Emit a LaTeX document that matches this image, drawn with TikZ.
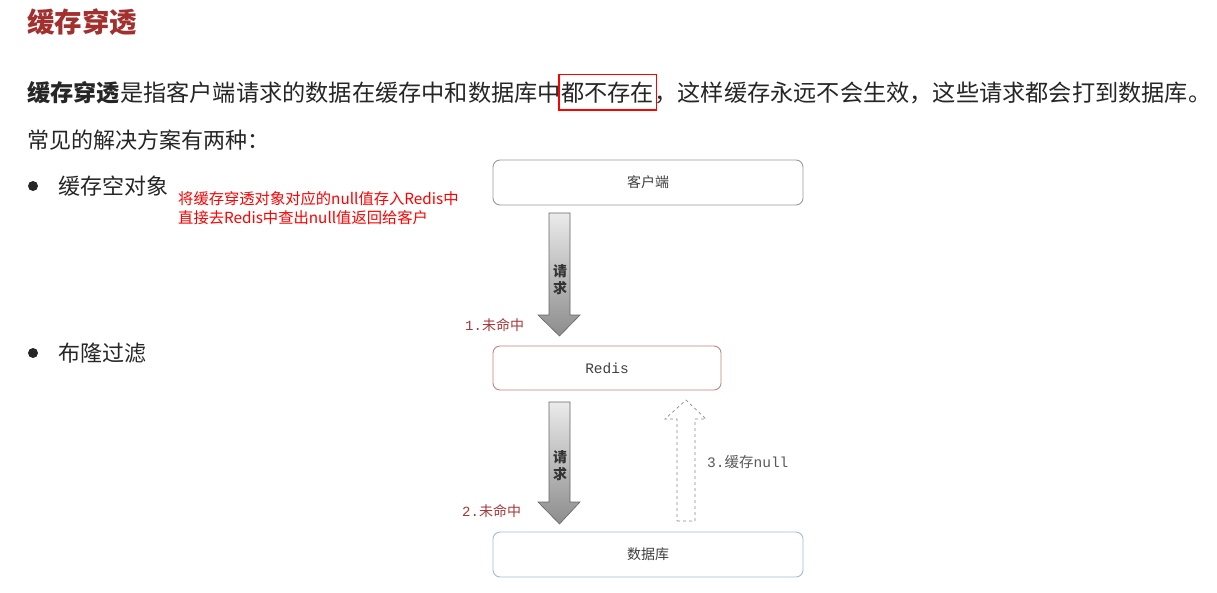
\documentclass[tikz,border=0pt]{standalone}
\usepackage{fontspec}
\setmainfont{Noto Sans CJK SC}
\newfontfamily\cjk{Noto Sans CJK SC}
\newfontfamily\mono{Liberation Mono}
\usetikzlibrary{fit}
\definecolor{titlered}{HTML}{A1302F}
\definecolor{lblred}{HTML}{A8373A}
\definecolor{boxgray}{HTML}{9A9A9A}
\definecolor{boxred}{HTML}{C08585}
\definecolor{boxblue}{HTML}{A3BCD6}
\tikzset{
  txt/.style={inner sep=0pt, anchor=west, font=\fontsize{22}{24}\selectfont, text=black!85},
  line1/.style={txt, anchor=base west, font=\fontsize{23.2}{26}\selectfont},
  flow/.style={draw, rounded corners=7pt, line width=0.9pt, fill=white, font=\fontsize{14}{16}\selectfont, text=black!75},
  lbl/.style={inner sep=0pt, font=\fontsize{14}{16}\selectfont, text=lblred},
  bigarrow/.style={draw=black!60, line width=0.6pt, top color=black!8, bottom color=black!45},
  dasharrow/.style={draw=black!45, dashed, line width=0.7pt},
}
\begin{document}
\begin{tikzpicture}[x=1pt,y=-1pt]
\useasboundingbox (0,0) rectangle (1217,592);
\fill[white] (0,0) rectangle (1217,592);
\node[txt, font=\fontsize{27.5}{30}\selectfont\bfseries, text=titlered] (title) at (27,22) {缓存穿透};
\node[line1] (l1a) at (27,101) {\textbf{缓存穿透}是指客户端请求的数据在缓存中和数据库中};
\node[line1] (l1b) at (l1a.base east) {都不存在};
\node[draw=red, line width=1.2pt, fit=(l1b), inner xsep=2pt, inner ysep=7pt] (hl) {};
\node[line1] (l1c) at (l1b.base east) {，这样缓存永远不会生效，这些请求都会打到数据库。};
\node[txt] (l2) at (27,140) {常见的解决方案有两种：};
\fill[black!85] (33,186) circle (5) node (b1) {};
\node[txt] (t1) at (58,186) {缓存空对象};
\node[txt, anchor=north west, text=red, align=left, font=\fontsize{15.3}{19}\selectfont] (note) at (178,191) {将缓存穿透对象对应的null值存入Redis中\\直接去Redis中查出null值返回给客户};
\fill[black!85] (33,353) circle (5) node (b2) {};
\node[txt] (t2) at (58,353) {布隆过滤};

\node[flow, draw=boxgray, minimum width=310, minimum height=45] (client) at (648,182.5) {客户端};
\node[flow, draw=boxred, minimum width=228, minimum height=44, font=\mono\fontsize{14.5}{16}\selectfont] (redis) at (607,368) {Redis};
\node[flow, draw=boxblue, minimum width=310, minimum height=45] (db) at (648,554.5) {数据库};

\coordinate (a1t) at (559.5,336);
\path[bigarrow] (549,213) -- (570,213) -- (570,315) -- (580,315) -- (a1t) -- (538,315) -- (549,315) -- cycle;
\node[align=center, font=\fontsize{14}{17}\selectfont\bfseries, text=black!80] (q1) at (560,280) {请\\求};
\node[lbl, anchor=west] (m1) at (465,325) {{\mono 1.}未命中};

\coordinate (a2t) at (559.5,524);
\path[bigarrow] (549,402) -- (570,402) -- (570,502) -- (580,502) -- (a2t) -- (538,502) -- (549,502) -- cycle;
\node[align=center, font=\fontsize{14}{17}\selectfont\bfseries, text=black!80] (q2) at (560,466) {请\\求};
\node[lbl, anchor=west] (m2) at (462,511) {{\mono 2.}未命中};

\coordinate (a3t) at (686,400);
\path[dasharrow] (677,521) -- (695,521) -- (695,419) -- (706,419) -- (a3t) -- (665,419) -- (677,419) -- cycle;
\node[lbl, anchor=west, text=black!65, font=\fontsize{14.5}{16}\selectfont] (m3) at (707,462) {{\mono 3.}缓存{\mono null}};
\end{tikzpicture}
\end{document}
